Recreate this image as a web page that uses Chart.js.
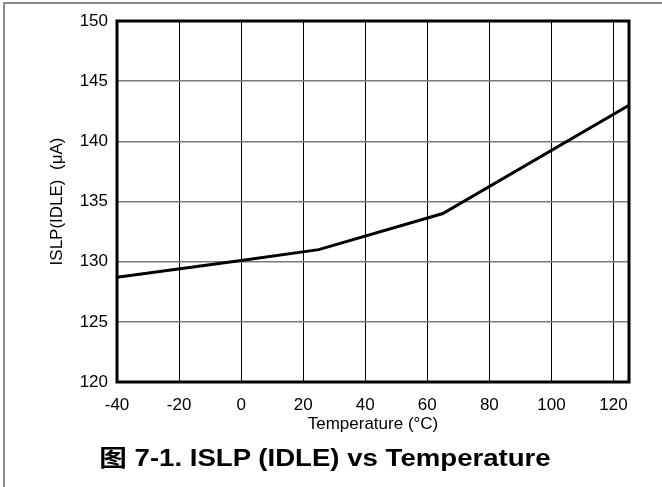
<!DOCTYPE html>
<html>
<head>
<meta charset="utf-8">
<script src="https://cdn.jsdelivr.net/npm/chart.js@4"></script>
<style>
    body { margin: 0; background: #fff; }
    #wrap { position: relative; width: 662px; height: 487px; overflow: hidden; }
    #edge { position: absolute; left: 3px; top: 2px; width: 662px; height: 490px;
            border-left: 2px solid #8a8a8a; border-top: 2px solid #8a8a8a; }
    #chartBox { position: absolute; left: 0; top: 0; width: 662px; height: 440px; }
    #caption { position: absolute; left: 0; width: 650px; top: 439px; text-align: center;
               font: bold 23px "Liberation Sans", Arial, "Noto Sans CJK SC", sans-serif;
               color: #000; transform: scaleX(1.2); transform-origin: 325px 0; }
</style>
</head>
<body>
<div id="wrap">
    <div id="edge"></div>
    <div id="chartBox"><canvas id="islpChart" width="662" height="440"></canvas></div>
    <div id="caption">图 7-1. ISLP (IDLE) vs Temperature</div>
</div>
<script>
// values
const temperature = [-40, 0, 25, 65, 125];
const islpIdle = [128.7, 130.1, 131, 134, 143];
const xTicks = [-40, -20, 0, 20, 40, 60, 80, 100, 120];
const yTicks = [120, 125, 130, 135, 140, 145, 150];

const tickFont = { family: '"Liberation Sans", Arial, sans-serif', size: 17 };
const titleFont = { family: '"Liberation Sans", Arial, sans-serif', size: 17 };

// thick black box around the plot
const frame = {
    id: 'frame',
    afterDraw(chart) {
        const a = chart.chartArea;
        const ctx = chart.ctx;
        ctx.save();
        ctx.strokeStyle = '#000';
        ctx.lineWidth = 3;
        ctx.strokeRect(a.left, a.top, a.right - a.left, a.bottom - a.top);
        ctx.restore();
    }
};

const ctx = document.getElementById('islpChart').getContext('2d');
const islpChart = new Chart(ctx, {
    type: 'scatter',
    data: {
        datasets: [{
            data: temperature.map((t, i) => ({ x: t, y: islpIdle[i] })),
            showLine: true,
            borderColor: '#000',
            borderWidth: 3,
            pointRadius: 0,
            tension: 0
        }]
    },
    options: {
        responsive: false,
        animation: false,
        layout: { padding: { left: 0, right: 33, top: 21, bottom: 0 } },
        plugins: {
            legend: { display: false },
            tooltip: { enabled: false }
        },
        scales: {
            x: {
                type: 'linear',
                min: -40,
                max: 125,
                afterBuildTicks: (scale) => { scale.ticks = xTicks.map(v => ({ value: v })); },
                afterFit: (scale) => { scale.height = 58; },
                border: { display: false },
                grid: { color: '#000', lineWidth: 1, drawTicks: false },
                ticks: { color: '#000', font: tickFont, padding: 13, maxRotation: 0, autoSkip: false },
                title: {
                    display: true,
                    text: 'Temperature (°C)',
                    color: '#000',
                    font: titleFont,
                    padding: { top: 0, bottom: 5 }
                }
            },
            y: {
                min: 120,
                max: 150,
                afterBuildTicks: (scale) => { scale.ticks = yTicks.map(v => ({ value: v })); },
                afterFit: (scale) => { scale.width = 117; },
                border: { display: false },
                grid: { color: '#7a7a7a', lineWidth: 1.5, drawTicks: false },
                ticks: { color: '#000', font: tickFont, padding: 9 },
                title: {
                    display: true,
                    text: 'ISLP(IDLE)  (μA)',
                    color: '#000',
                    font: titleFont,
                    padding: { top: 47, bottom: 0 }
                }
            }
        }
    },
    plugins: [frame]
});
</script>
</body>
</html>
